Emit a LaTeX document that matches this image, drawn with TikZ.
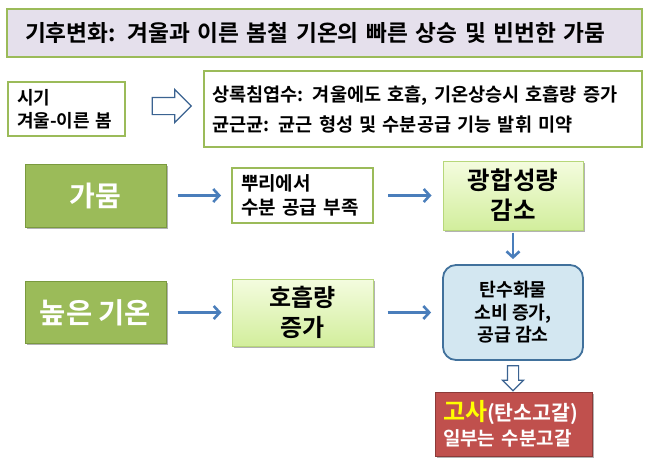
\documentclass[tikz,border=0pt]{standalone}
\usepackage{fontspec}
\setmainfont{Noto Sans CJK KR}[BoldFont={Noto Sans CJK KR Bold}]
\usetikzlibrary{arrows.meta,shapes.arrows,shadows}
\definecolor{tgreen}{HTML}{9BBB59}
\definecolor{tgreendk}{HTML}{7A9A3E}
\definecolor{lav}{HTML}{E5E0EC}
\definecolor{ablue}{HTML}{4A7EBB}
\definecolor{hblue}{HTML}{3B6391}
\definecolor{cbfill}{HTML}{D3E7F1}
\definecolor{cbdraw}{HTML}{41719C}
\definecolor{rfill}{HTML}{C0504D}
\definecolor{rdraw}{HTML}{8C3A38}
\definecolor{lgtop}{HTML}{F4FCDF}
\definecolor{lgbot}{HTML}{D2EE9C}
\definecolor{lgdraw}{HTML}{B7D77A}
\definecolor{goldy}{HTML}{FFFF00}
\tikzset{
  shad/.style={drop shadow={shadow xshift=1.5pt,shadow yshift=-1.5pt,opacity=0.3,fill=black}},
  outlinebox/.style={draw=tgreen,line width=2pt,fill=white,inner ysep=0pt},
  titlebox/.style={draw=tgreen,line width=2.5pt,fill=lav,inner ysep=0pt,align=left,
    font=\bfseries\fontsize{22.7}{25}\selectfont},
  greenbox/.style={shad,fill=tgreen,draw=tgreendk,line width=1pt,text=white,inner sep=0pt,
    font=\bfseries\fontsize{28}{30}\selectfont},
  lightbox/.style={shad,top color=lgtop,bottom color=lgbot,draw=lgdraw,line width=1pt,
    inner sep=0pt,align=center,font=\bfseries\fontsize{24}{30}\selectfont},
  carbbox/.style={fill=cbfill,draw=cbdraw,line width=1.8pt,rounded corners=13pt,
    inner sep=0pt,align=center,font=\bfseries\fontsize{18.3}{22.5}\selectfont},
  redbox/.style={shad,fill=rfill,draw=rdraw,line width=1pt,text=white,inner ysep=0pt,
    align=left,font=\bfseries\fontsize{19}{25}\selectfont},
  flow/.style={draw=ablue,line width=2.6pt,-{Straight Barb[length=6pt,width=13pt]}},
  hollow/.style={shape=single arrow,draw=hblue,fill=white,line width=1.2pt,inner xsep=0pt}
}
\begin{document}
\begin{tikzpicture}[x=1pt,y=-1pt]
\useasboundingbox (0,0) rectangle (650,463);

\node[titlebox,minimum height=48pt,text width=599pt,inner xsep=18pt] (title) at (324.5,33)
  {기후변화: 겨울과 이른 봄철 기온의 빠른 상승 및 빈번한 가뭄};

\node[outlinebox,minimum height=54pt,text width=99pt,inner xsep=9pt,align=left,
  font=\bfseries\fontsize{18}{23}\selectfont] (sigi) at (66.5,109)
  {시기\\겨울-이른 봄};

\node[outlinebox,minimum height=76pt,text width=422pt,inner xsep=8pt,align=left,
  font=\bfseries\fontsize{18.6}{30}\selectfont] (info) at (423,109)
  {상록침엽수: 겨울에도 호흡, 기온상승시 호흡량 증가\\균근균: 균근 형성 및 수분공급 기능 발휘 미약};

\node[hollow,minimum height=39pt,inner ysep=8pt,single arrow head extend=8pt] (ha1) at (167.5,106) {};

\node[greenbox,minimum width=141pt,minimum height=63pt] (gamum) at (95.5,195.5) {가뭄};
\node[greenbox,minimum width=141pt,minimum height=62pt,font=\bfseries\fontsize{28.5}{30}\selectfont] (high) at (95.5,312.5) {높은 기온};

\node[outlinebox,minimum height=55pt,text width=123pt,inner xsep=9pt,align=left,
  font=\bfseries\fontsize{19}{24}\selectfont] (ppuri) at (302.5,195.5)
  {뿌리에서\\수분 공급 부족};
\node[lightbox,minimum width=141pt,minimum height=67pt] (hoheup) at (302.5,312.5) {호흡량\\증가};

\node[lightbox,minimum width=140pt,minimum height=69pt,font=\bfseries\fontsize{24.5}{30}\selectfont] (gwang) at (513,195.5) {광합성량\\감소};
\node[carbbox,minimum width=140pt,minimum height=95pt] (carb) at (513,312.5) {탄수화물\\소비 증가,\\공급 감소};

\node[hollow,minimum height=25pt,inner ysep=5pt,single arrow head extend=5pt,
  rotate=-90] (ha2) at (513,375.5) {};

\node[redbox,minimum height=64pt,text width=141pt,inner xsep=8pt] (red) at (513.5,424)
  {{\fontsize{24}{25}\selectfont\textcolor{goldy}{고사}}{\fontsize{20.5}{25}\selectfont(탄소고갈)}\\
   일부는 수분고갈};

\draw[flow,shorten <=11pt,shorten >=10pt] (gamum.east) -- (ppuri.west);
\draw[flow,shorten <=14pt,shorten >=11pt] (ppuri.east) -- (gwang.west);
\draw[flow,shorten <=11pt,shorten >=10pt] (high.east) -- (hoheup.west);
\draw[flow,shorten <=14pt,shorten >=11pt] (hoheup.east) -- (carb.west);
\draw[flow,shorten <=2pt,shorten >=5pt] (gwang.south) -- (carb.north);
\end{tikzpicture}
\end{document}
